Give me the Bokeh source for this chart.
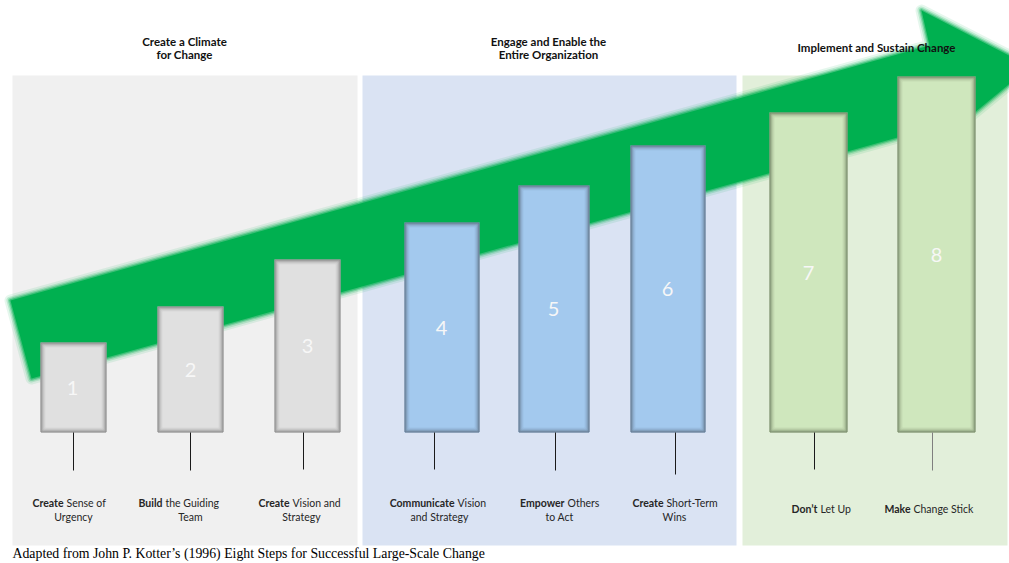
from bokeh.plotting import figure
from bokeh.models import Range1d, ColumnDataSource
from bokeh.core.properties import value
from bokeh.embed import file_html
from bokeh.resources import INLINE

# ---------------- data ----------------
steps = ["1", "2", "3", "4", "5", "6", "7", "8"]
heights = [90, 126, 173, 210, 247, 287, 320, 356]
bold_words = ["Create", "Build", "Create", "Communicate", "Empower", "Create", "Don\u2019t", "Make"]
rest_line1 = ["Sense of", "the Guiding", "Vision and", "Vision", "Others", "Short-Term", "Let Up", "Change Stick"]
line2 = ["Urgency", "Team", "Strategy", "and Strategy", "to Act", "Wins", "", ""]
phase_titles = [["Create a Climate", "for Change"],
                ["Engage and Enable the", "Entire Organization"],
                ["Implement and Sustain Change"]]
footer = "Adapted from John P. Kotter\u2019s (1996) Eight Steps for Successful Large-Scale Change"

# ---------------- layout (pixels: x right, y up from bar baseline) ----------------
W, H = 1009, 563
BASE = 432  # pixel row of the bar baseline


def py(v):
    return BASE - v


bar_left = [40, 157, 274, 404, 518, 630, 769, 897]
bar_right = [106, 223, 340, 479, 589, 705, 847, 975]
num_x = [72, 190, 307, 441, 553, 667, 808, 936]
lead_x = [73, 190, 303, 434, 555, 675, 814, 932]
lead_end = [470, 470, 469, 469, 470, 474, 469, 470]
split_x = [63, 162, 289, 454, 564, 663, 817, 910]
label_rows = [502, 502, 502, 502, 502, 502, 508, 508]

panel_l = [12, 362, 742]
panel_r = [357, 736, 1007]
panel_colors = ["#f0f0f0", "#dae3f3", "#e2efda"]
title_x = [184, 548, 876]

bar_fill = ["#e0e0e0"] * 3 + ["#a3c9ee"] * 3 + ["#cfe7bd"] * 2
bar_edge = ["#7a7a7a"] * 3 + ["#56677a"] * 3 + ["#66775a"] * 2

p = figure(width=W, height=H, x_range=Range1d(0, W), y_range=Range1d(BASE - H, BASE),
           output_backend="svg", toolbar_location=None, min_border=0)
p.axis.visible = False
p.grid.visible = False
p.outline_line_color = None
p.background_fill_color = "white"
p.border_fill_color = "white"

# panels
p.quad(left=panel_l, right=panel_r, top=[py(75)] * 3, bottom=[py(545)] * 3,
       fill_color=panel_colors, line_color=None)

# big arrow (pixel geometry)
arrow_px = [(10, 300), (929, 45), (921, 10), (1030, 66), (940, 140), (933, 127), (31, 378)]
ax = [a[0] for a in arrow_px]
ay = [py(a[1]) for a in arrow_px]
green = "#00b050"
for lw, al in [(12, 0.10), (8, 0.18), (5, 0.3), (2.5, 0.5)]:
    p.patch(ax, ay, fill_color=None, line_color=green, line_alpha=al, line_width=lw,
            line_join="round")
p.patch(ax, ay, fill_color=green, line_color=None)

# bars
src = ColumnDataSource(dict(left=bar_left, right=bar_right, top=heights,
                            bottom=[0] * 8, fill=bar_fill, edge=bar_edge,
                            xc=num_x, yc=[h / 2 for h in heights], step=steps))
p.quad(left="left", right="right", top="top", bottom="bottom", source=src,
       fill_color="fill", line_color=None)
# inner shadow
for inset, al in [(0.5, 0.95), (1.5, 0.6), (2.5, 0.35), (3.5, 0.18), (4.5, 0.08)]:
    p.quad(left=[l + inset for l in bar_left], right=[r - inset for r in bar_right],
           top=[h - inset for h in heights], bottom=[inset] * 8,
           fill_color=None, line_color=bar_edge, line_alpha=al, line_width=1)

p.text(x="xc", y="yc", text="step", source=src, text_color="#f7f7f7",
       text_font=value("Lato"), text_font_size="20px", text_align="center",
       text_baseline="middle")

# leader lines
lead_cols = ["#1a1a1a"] * 7 + ["#7f7f7f"]
p.segment(x0=lead_x, y0=[0] * 8, x1=lead_x, y1=[py(e) for e in lead_end],
          line_color=lead_cols, line_width=1)

# step labels
lab_y = [py(r) for r in label_rows]
p.text(x=split_x, y=lab_y, text=bold_words, text_font=value("Lato"),
       text_font_style="bold", text_font_size="10.5px", text_color="#262626",
       text_align="right", text_baseline="middle")
p.text(x=[s + 3 for s in split_x], y=lab_y, text=rest_line1, text_font=value("Lato"),
       text_font_size="10.5px", text_color="#262626", text_align="left",
       text_baseline="middle")
l2x = [73, 190, 301, 439, 559, 674]
p.text(x=l2x, y=[py(516)] * 6, text=line2[:6], text_font=value("Lato"),
       text_font_size="10.5px", text_color="#262626", text_align="center",
       text_baseline="middle")

# phase titles
tx, ty, tt = [], [], []
for i, lines in enumerate(phase_titles):
    if len(lines) == 2:
        rows = [40.7, 54.3]
    else:
        rows = [47]
    for r, t in zip(rows, lines):
        tx.append(title_x[i]); ty.append(py(r)); tt.append(t)
p.text(x=tx, y=ty, text=tt, text_font=value("Lato"), text_font_style="bold",
       text_font_size="11.5px", text_color="#111111", text_align="center",
       text_baseline="middle")

# footer
p.text(x=[12], y=[py(553)], text=[footer], text_font=value("Liberation Serif"),
       text_font_size="13.8px", text_color="#000000", text_align="left",
       text_baseline="middle")

open("out.html", "w").write(file_html(p, INLINE))
